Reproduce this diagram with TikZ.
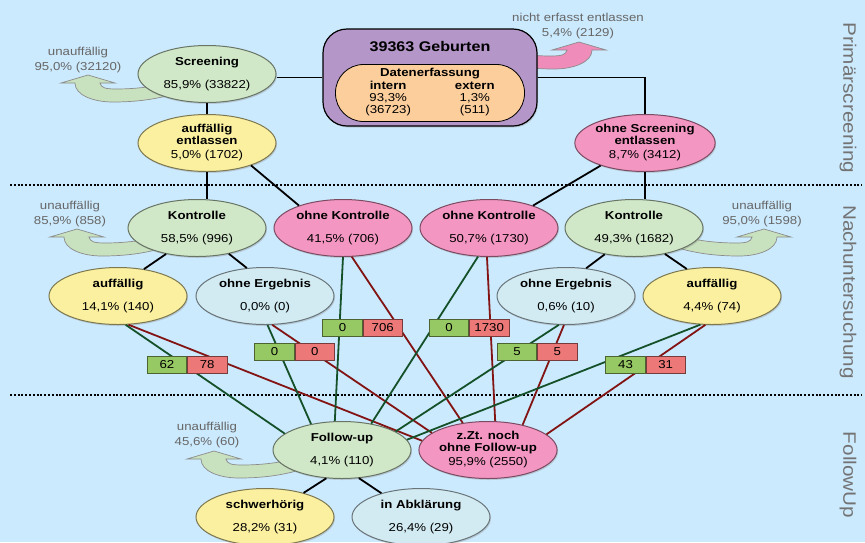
\documentclass[tikz,border=0pt]{standalone}
\usepackage{fontspec}
\setmainfont{Liberation Sans}[FakeStretch=1.15]
\usepackage{tikz}
\usetikzlibrary{shapes.geometric, positioning, shadows}

\definecolor{sky}{RGB}{204,234,254}
\definecolor{okfill}{RGB}{208,232,200}
\definecolor{flagfill}{RGB}{250,240,160}
\definecolor{lostfill}{RGB}{244,150,194}
\definecolor{openfill}{RGB}{210,235,242}
\definecolor{birthfill}{RGB}{180,150,200}
\definecolor{datafill}{RGB}{252,206,156}
\definecolor{okbar}{RGB}{150,200,100}
\definecolor{nobar}{RGB}{236,120,120}
\definecolor{okline}{RGB}{20,80,40}
\definecolor{noline}{RGB}{130,20,20}
\definecolor{curlgreen}{RGB}{200,225,190}
\definecolor{curlpink}{RGB}{240,140,185}

\tikzset{
txt/.style={font=\fontsize{11.5}{12}\selectfont, align=center, text=black},
bubble/.style={%
    ellipse,
    txt,
    minimum width=138pt,
    minimum height=57pt,
    inner sep=0pt,
    line width=1pt,
    drop shadow={shadow xshift=1pt, shadow yshift=-1.5pt, opacity=0.3}
},
okay/.style={bubble, fill=okfill, draw=okfill!50!black},
flag/.style={bubble, fill=flagfill, draw=flagfill!50!black},
lost/.style={bubble, fill=lostfill, draw=lostfill!50!black},
unclear/.style={bubble, fill=openfill, draw=openfill!50!black},
geburtbox/.style={%
    rectangle,
    rounded corners=24pt,
    minimum width=214pt,
    minimum height=97pt,
    fill=birthfill,
    draw=black,
    line width=1.2pt,
    drop shadow={shadow xshift=1pt, shadow yshift=-1.5pt, opacity=0.3}
},
datenbox/.style={%
    rectangle,
    rounded corners=28pt,
    minimum width=189pt,
    minimum height=57pt,
    inner sep=1pt,
    fill=datafill,
    draw=black,
    line width=0.8pt,
    txt
},
countbox/.style={rectangle, txt, minimum width=39.5pt, minimum height=17pt, inner sep=0pt, line width=0.7pt,
    drop shadow={shadow xshift=0.8pt, shadow yshift=-0.8pt, opacity=0.3}},
fuyes/.style={countbox, fill=okbar, draw=okbar!50!black},
funo/.style={countbox, fill=nobar, draw=nobar!50!black},
link/.style={draw=black, line width=1.8pt},
okpath/.style={draw=okline, line width=1.8pt},
nopath/.style={draw=noline, line width=1.8pt},
divider/.style={draw=black, line width=1.3pt, dash pattern=on 2pt off 1.8pt},
note/.style={txt, text=black!60, font=\fontsize{11.5}{15}\selectfont},
sidetitle/.style={rotate=-90, font=\fontsize{18}{18}\selectfont, text=black!55},
curl/.pic={
    \path[pic actions] (-27,0) -- (0,-8) -- (27,0) -- (12,0)
        .. controls (13,5) and (18,6) .. (28,6)
        .. controls (50,6) and (75,3) .. (95,-5)
        -- (95,8)
        .. controls (70,17) and (45,19) .. (25,19)
        .. controls (5,19) and (-13,12) .. (-13,0) -- cycle;
},
}

\begin{document}
\begin{tikzpicture}[x=1pt, y=-1pt]
	\fill[sky] (0,0) rectangle (865,542);
	\useasboundingbox (0,0) rectangle (865,542);

	% Trennlinien und Phasen
	\draw[divider] (10,185) -- (862,185);
	\draw[divider] (10,395) -- (862,395);
	\node[sidetitle] (prim) at (848,98) {Primärscreening};
	\node[sidetitle] (nach) at (848,292) {Nachuntersuchung};
	\node[sidetitle] (fup) at (848,475) {FollowUp};

	% Abgaenge
	\pic[fill=curlgreen, draw=black!45, line width=0.7pt] at (88,83) {curl};
	\pic[fill=curlgreen, draw=black!45, line width=0.7pt] at (77,237) {curl};
	\pic[fill=curlgreen, draw=black!45, line width=0.7pt] at (214,459) {curl};
	\pic[xscale=-1, fill=curlgreen, draw=black!45, line width=0.7pt] at (764,237) {curl};
	\pic[xscale=-1, fill=curlpink, draw=black!45, line width=0.7pt] at (579,50) {curl};

	% Primaerscreening
	\node[geburtbox] (geb) at (430,77.5) {};
	\node[txt, font=\fontsize{14}{14}\selectfont\bfseries] (gebT) at (430,47) {39363 Geburten};
	\node[datenbox] (daten) at (430,93) {\textbf{Datenerfassung}\\[1pt]
		\begin{tabular}[t]{@{}c@{\hspace{44pt}}c@{}}
		\textbf{intern} & \textbf{extern}\\
		93,3\% & 1,3\%\\
		(36723) & (511)
		\end{tabular}};
	\node[okay] (scr) at (207,74) {\textbf{Screening}\\[11pt]85,9\% (33822)};
	\node[flag] (aufEnt) at (207,143) {\textbf{auffällig}\\\textbf{entlassen}\\[2pt]5,0\% (1702)};
	\node[lost] (ohneS) at (645,143) {\textbf{ohne Screening}\\\textbf{entlassen}\\[2pt]8,7\% (3412)};

	% Nachuntersuchung
	\node[okay] (kontL) at (197,228) {\textbf{Kontrolle}\\[11pt]58,5\% (996)};
	\node[lost] (ohneK1) at (343,228) {\textbf{ohne Kontrolle}\\[11pt]41,5\% (706)};
	\node[lost] (ohneK2) at (489,228) {\textbf{ohne Kontrolle}\\[11pt]50,7\% (1730)};
	\node[okay] (kontR) at (634,228) {\textbf{Kontrolle}\\[11pt]49,3\% (1682)};
	\node[flag] (auffL) at (118,296) {\textbf{auffällig}\\[11pt]14,1\% (140)};
	\node[unclear] (oeL) at (265,296) {\textbf{ohne Ergebnis}\\[11pt]0,0\% (0)};
	\node[unclear] (oeR) at (566,296) {\textbf{ohne Ergebnis}\\[11pt]0,6\% (10)};
	\node[flag] (auffR) at (712,296) {\textbf{auffällig}\\[11pt]4,4\% (74)};

	% FollowUp
	\node[okay] (fu) at (342,450) {\textbf{Follow-up}\\[11pt]4,1\% (110)};
	\node[lost] (zzt) at (488,450) {\textbf{z.Zt. noch}\\\textbf{ohne Follow-up}\\[2pt]95,9\% (2550)};
	\node[flag] (schw) at (265,517) {\textbf{schwerhörig}\\[11pt]28,2\% (31)};
	\node[unclear] (abkl) at (421,517) {\textbf{in Abklärung}\\[11pt]26,4\% (29)};

	\draw[link] (scr) -- (aufEnt);
	\draw[link] (geb.west) -- (geb.west -| scr.east);
	\draw[link] (geb.east) -| (ohneS);
	\draw[link] (aufEnt.south) -- (aufEnt.south |- kontL.north);
	\draw[link] (aufEnt.333) -- (ohneK1.153);
	\draw[link] (ohneS.207) -- (ohneK2.27);
	\draw[link] (ohneS.south) -- (ohneS.south |- kontR.north);
	\draw[link] (kontL.220) -- (auffL.46);
	\draw[link] (kontL.321) -- (oeL.123);
	\draw[link] (kontR.222) -- (oeR.54);
	\draw[link] (kontR.320) -- (auffR.133);
	\draw[link] (fu.241) -- (schw.32);
	\draw[link] (fu.301) -- (abkl.149);

	\foreach \src/\ga/\gb/\ra/\rb in {auffL/285/164/290/172, oeL/275/140/284/163,
		ohneK1/270/104/287/133, ohneK2/249/42/266/76, oeR/256/19/266/36, auffR/248/9/257/15} {
		\draw[okpath] (\src.\ga) -- (fu.\gb);
		\draw[nopath] (\src.\ra) -- (zzt.\rb);
	}

	\foreach \n/\x/\y/\g/\r in {b1/167/365/62/78, b2/274.5/352/0/0, b3/342.5/328/0/706,
		b4/449/328/0/1730, b5/517/352/5/5, b6/625.5/365/43/31} {
		\node[fuyes] (\n g) at (\x,\y) {\g};
		\node[funo, right=0pt of \n g] (\n r) {\r};
	}

	\node[note] (scrU) at (78,60) {unauffällig\\95,0\% (32120)};
	\node[note] (kontLU) at (70,214) {unauffällig\\85,9\% (858)};
	\node[note] (kontRU) at (762,214) {unauffällig\\95,0\% (1598)};
	\node[note] (fuU) at (207,435) {unauffällig\\45,6\% (60)};
	\node[note] (gebU) at (578,26) {nicht erfasst entlassen\\5,4\% (2129)};
\end{tikzpicture}
\end{document}
